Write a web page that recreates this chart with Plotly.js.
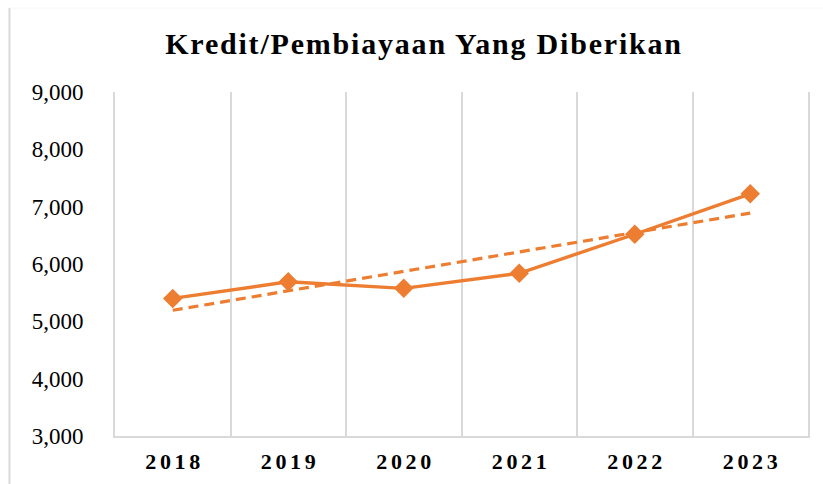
<!DOCTYPE html>
<html>
<head>
<meta charset="utf-8">
<script src="https://cdn.plot.ly/plotly-3.0.1.min.js"></script>
<style>
  html, body { margin: 0; padding: 0; background: #fff; }
  #chart { width: 823px; height: 484px; }
</style>
</head>
<body>
<div id="chart"></div>
<script>
// ---- data ----
const years = ['2018', '2019', '2020', '2021', '2022', '2023'];
const kredit = [5400, 5690, 5575, 5837, 6519, 7224];
const yTickVals = [3000, 4000, 5000, 6000, 7000, 8000, 9000];
const chartTitle = 'Kredit/Pembiayaan Yang Diberikan';

// linear trendline (least squares, like Excel's linear trendline)
const n = kredit.length;
const xs = kredit.map((_, i) => i + 1);
const mx = xs.reduce((a, b) => a + b, 0) / n;
const my = kredit.reduce((a, b) => a + b, 0) / n;
let sxy = 0, sxx = 0;
for (let i = 0; i < n; i++) { sxy += (xs[i] - mx) * (kredit[i] - my); sxx += (xs[i] - mx) ** 2; }
const slope = sxy / sxx, intercept = my - slope * mx;
const trend = xs.map(x => intercept + slope * x);

const ORANGE = '#ED7D31';
const GRID = '#d9d9d9';
const SERIF = '"Liberation Serif", "Times New Roman", serif';

const traces = [
  {
    x: years, y: trend, type: 'scatter', mode: 'lines',
    line: { color: ORANGE, width: 3.2, dash: '10px,6px' },
    hoverinfo: 'skip', showlegend: false
  },
  {
    x: years, y: kredit, type: 'scatter', mode: 'lines+markers',
    line: { color: ORANGE, width: 3.4 },
    marker: { symbol: 'diamond', size: 15, color: ORANGE },
    showlegend: false
  }
];

const layout = {
  width: 823, height: 484,
  paper_bgcolor: '#fff', plot_bgcolor: '#fff',
  margin: { l: 115, r: 15, t: 92, b: 48 },
  title: {
    text: '<b>' + chartTitle + '</b>',
    font: { family: SERIF, size: 30, color: '#000' },
    x: 424 / 823, xanchor: 'center', xref: 'container',
    y: 1 - 54 / 484, yanchor: 'bottom', yref: 'container'
  },
  xaxis: {
    type: 'category', range: [-0.5, 5.5],
    tickson: 'boundaries', ticks: '',
    showgrid: true, gridcolor: GRID, gridwidth: 2,
    showline: true, linecolor: GRID, linewidth: 2,
    zeroline: false,
    tickfont: { family: SERIF, size: 22, color: '#000', weight: 'bold' },
    ticklabelstandoff: 5
  },
  yaxis: {
    range: [3000, 9000], tickvals: yTickVals, tickformat: ',d',
    showgrid: false, zeroline: false, ticks: '',
    showline: true, mirror: true, linecolor: GRID, linewidth: 2,
    tickfont: { family: SERIF, size: 23, color: '#000' },
    ticklabelstandoff: 25
  },
  shapes: [
    { type: 'line', xref: 'paper', yref: 'paper',
      x0: -105.5 / 693, x1: -105.5 / 693, y0: -48 / 344, y1: 1 + 84 / 344,
      line: { color: GRID, width: 2 } },
    { type: 'line', xref: 'paper', yref: 'paper',
      x0: -105 / 693, x1: 1 + 15 / 693, y0: 1 + 84 / 344, y1: 1 + 84 / 344,
      line: { color: '#f6f6f6', width: 1 } }
  ]
};

Plotly.newPlot('chart', traces, layout, { displayModeBar: false, staticPlot: true }).then(() => {
  const t = document.querySelector('.gtitle');
  if (t) { t.style.letterSpacing = '1.8px'; }
  document.querySelectorAll('.xtick text').forEach(el => {
    el.style.letterSpacing = '3.6px';
    el.setAttribute('dx', '1.8');
  });
});
</script>
</body>
</html>
